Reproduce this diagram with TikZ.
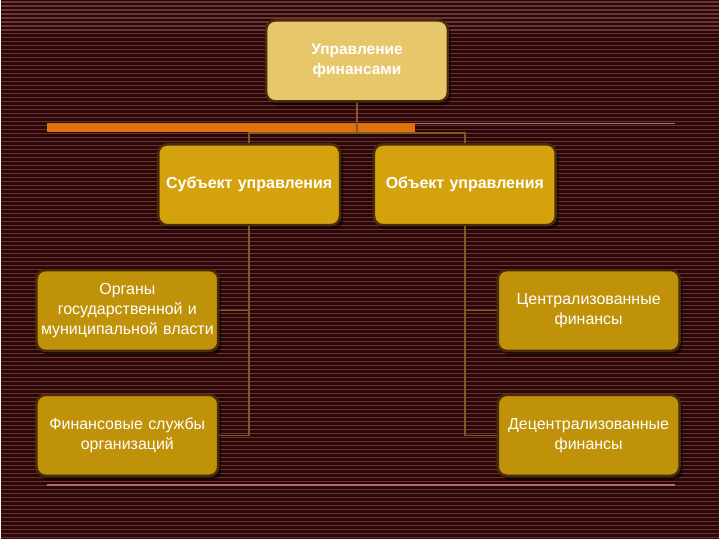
\documentclass[tikz,border=0pt]{standalone}
\usepackage{fontspec}
\setmainfont{Liberation Sans}
\usepackage{tikz}
\usetikzlibrary{positioning, shadows}
\definecolor{bgdark}{HTML}{2C0707}
\definecolor{bgline}{HTML}{6A3434}
\definecolor{boxedge}{HTML}{4A2C0A}
\definecolor{toplevel}{HTML}{E8C66A}
\definecolor{midlevel}{HTML}{D4A20C}
\definecolor{lowlevel}{HTML}{C09209}
\definecolor{linkbrown}{HTML}{7C5A22}
\definecolor{barorange}{HTML}{E0720E}
\definecolor{rulepink}{HTML}{B86A6A}

\begin{document}
\begin{tikzpicture}[
    x=1pt, y=-1pt,
    every node/.style={font=\fontsize{16}{20}\selectfont, text=white},
    card/.style={rectangle, rounded corners=9pt, draw=boxedge, line width=2.5pt,
        minimum width=182pt, minimum height=81pt, text width=175pt, align=center,
        drop shadow={shadow xshift=3pt, shadow yshift=-4pt, fill=black, opacity=0.55}},
    topcard/.style={card, fill=toplevel, font=\bfseries\fontsize{15.5}{20}\selectfont},
    midcard/.style={card, fill=midlevel, font=\bfseries\fontsize{16}{20}\selectfont},
    lowcard/.style={card, fill=lowlevel},
    link/.style={draw=linkbrown, line width=1.6pt},
]
% striped background
\fill[bgdark] (0,0) rectangle (720,540);
\foreach \s in {0,4,...,536} {
    \draw[bgline, line width=1.1pt] (0,\s+2) -- (720,\s+2);
}
\useasboundingbox (0,0) rectangle (720,540);
% rules
\fill[barorange] (47,123) rectangle (415,132);
\draw[rulepink, line width=1pt] (415,124) -- (675,124);
\draw[rulepink, line width=1.6pt] (47,486) -- (675,486);
% boxes
\node[topcard] (ctrl) at (357,61) {Управление\\финансами};
\node[midcard] (subj) at (249,185) {Субъект управления};
\node[midcard] (obj) at (465,185) {Объект управления};
\node[lowcard] (organs) at (127,311) {Органы\\государственной и\\муниципальной власти};
\node[lowcard] (central) at (589,311) {Централизованные\\финансы};
\node[lowcard] (fins) at (127,436) {Финансовые службы\\организаций};
\node[lowcard] (decentral) at (589,436) {Децентрализованные\\финансы};
% connectors
\coordinate (split) at (357,133);
\draw[link] (ctrl.south) -- (split) -| (subj.north);
\draw[link] (split) -| (obj.north);
\draw[link] (subj.south) |- (organs.east);
\draw[link] (subj.south) |- (fins.east);
\draw[link] (obj.south) |- (central.west);
\draw[link] (obj.south) |- (decentral.west);
\end{tikzpicture}
\end{document}
